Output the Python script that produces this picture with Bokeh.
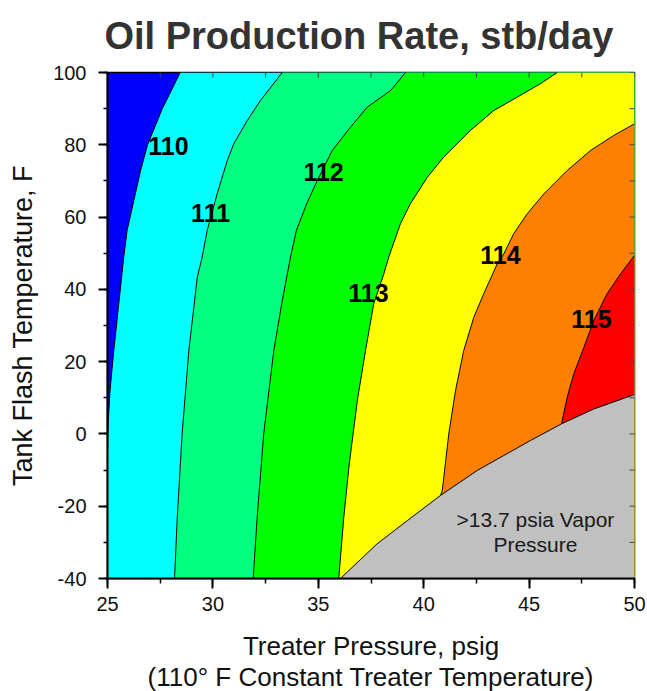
import math

from bokeh.plotting import figure
from bokeh.models import Range1d, SingleIntervalTicker, ColumnDataSource, PrintfTickFormatter
from bokeh.core.properties import value
from bokeh.embed import file_html
from bokeh.resources import INLINE

# Iso-rate boundaries, listed top to bottom: treater pressure (psig) and tank flash temperature (F)
b110_p = [28.45, 27.60, 26.90, 26.57, 26.25, 25.93, 25.77, 25.30, 25.12, 25.03, 25.00]
b110_t = [100.0, 90.0, 80.0, 72.9, 64.6, 56.3, 48.9, 23.1, 12.0, 3.0, -5.0]

b111_p = [33.29, 32.26, 31.63, 30.99, 30.68, 30.20, 29.73, 29.49, 29.26, 28.86, 28.54, 28.31, 28.18]
b111_t = [100.0, 92.3, 86.7, 80.3, 75.6, 66.4, 56.3, 48.9, 43.4, 23.1, 0.0, -23.1, -40.0]

b112_p = [39.14, 38.43, 37.32, 36.53, 35.66, 34.95, 34.45, 33.96, 33.68, 33.29, 32.89, 32.41, 32.10, 31.91]
b112_t = [100.0, 95.0, 90.4, 84.9, 78.4, 70.1, 63.7, 56.3, 48.9, 36.9, 23.1, 0.0, -23.1, -40.0]

b113_p = [46.33, 45.54, 44.44, 43.33, 42.22, 40.95, 40.17, 39.37, 38.90, 38.34, 38.11, 37.63, 37.24, 36.85, 36.45, 36.21, 35.97]
b113_t = [100.0, 96.9, 93.2, 89.5, 84.0, 76.6, 71.0, 63.7, 58.2, 48.9, 44.3, 36.0, 23.1, 9.2, -9.2, -23.0, -40.0]

b114_p = [50.00, 49.02, 47.91, 46.81, 45.70, 44.91, 44.27, 43.80, 43.49, 42.85, 42.38, 41.90, 41.51, 41.19, 40.88, 40.80]
b114_t = [85.8, 82.6, 78.4, 72.9, 66.4, 60.9, 55.4, 49.8, 47.1, 38.8, 32.3, 23.1, 12.0, 0.0, -15.7, -17.0]

b115_p = [50.00, 49.34, 48.70, 48.07, 47.60, 47.12, 46.81, 46.54]
b115_t = [49.4, 44.3, 38.8, 31.4, 24.0, 16.6, 10.2, 2.8]

# Limit where stock-tank vapor pressure exceeds 13.7 psia
vp_p = [36.05, 37.79, 39.22, 40.80, 42.54, 45.07, 46.54, 48.07, 50.00]
vp_t = [-40.0, -30.4, -24.0, -17.0, -10.1, -1.8, 2.8, 6.9, 10.9]

levels = ["110", "111", "112", "113", "114", "115"]
band_colors = ["#00FFFF", "#00FF80", "#00FF00", "#FFFF00", "#FF8000", "#FF0000"]
below_color = "#0000FF"
vp_color = "#C0C0C0"

# Contour label anchors
label_p = [27.89, 29.89, 35.25, 37.38, 43.64, 47.96]
label_t = [79.8, 61.0, 72.6, 39.1, 49.4, 31.7]

# Tick positions (major and minor) along both axes
x_ticks = [25, 27.5, 30, 32.5, 35, 37.5, 40, 42.5, 45, 47.5, 50]
y_ticks = [-40, -30, -20, -10, 0, 10, 20, 30, 40, 50, 60, 70, 80, 90, 100]

x_min, x_max = 25, 50
y_min, y_max = -40, 100

boundaries = [(b110_p, b110_t), (b111_p, b111_t), (b112_p, b112_t),
              (b113_p, b113_t), (b114_p, b114_t), (b115_p, b115_t)]

# Each band covers everything to the right of its lower boundary; later bands paint over earlier ones
band_xs, band_ys = [], []
for bp, bt in boundaries:
    band_xs.append(bp + [bp[-1], x_max, x_max])
    band_ys.append(bt + [y_min, y_min, bt[0] if bp[0] == x_max else y_max])

FONT = "Liberation Sans"

p = figure(frame_width=527, frame_height=506,
           min_border_left=107, min_border_right=13, min_border_top=72, min_border_bottom=113,
           x_range=Range1d(x_min, x_max), y_range=Range1d(y_min, y_max),
           output_backend="svg", toolbar_location=None,
           background_fill_color=below_color, border_fill_color="white")
x_axis = p.xaxis[0]
y_axis = p.yaxis[0]

p.patches(xs=band_xs, ys=band_ys, fill_color=band_colors, line_color=None)
p.patch(x=vp_p + [x_max], y=vp_t + [y_min], fill_color=vp_color, line_color=None)

p.multi_line(xs=[b[0] for b in boundaries] + [vp_p], ys=[b[1] for b in boundaries] + [vp_t],
             line_color="black", line_width=1)

lbl_src = ColumnDataSource(dict(x=label_p, y=label_t, text=levels))
p.text(x="x", y="y", text="text", source=lbl_src, text_align="center", text_baseline="middle",
       text_font=value(FONT), text_font_style="bold", text_font_size="25px", text_color="black")

p.text(x=[45.3, 45.3], y=[-23.7, -30.6], text=[">13.7 psia Vapor", "Pressure"],
       text_align="center", text_baseline="middle", text_font=value(FONT),
       text_font_size="21px", text_color="#1a1a1a")

# Short inward ticks mirrored on the top and right edges (half of each dash is clipped by the frame)
p.scatter(x=x_ticks, y=[y_max] * len(x_ticks), marker="dash", size=10, angle=math.pi / 2,
          line_color="#444444", line_width=1)
p.scatter(x=[x_max] * len(y_ticks), y=y_ticks, marker="dash", size=10,
          line_color="#444444", line_width=1)

# Title
p.title.text = "Oil Production Rate, stb/day"
p.title.align = "left"
p.title.vertical_align = "top"
p.title.offset = -3
p.title.standoff = 27
p.title.text_font = FONT
p.title.text_font_size = "38px"
p.title.text_font_style = "bold"
p.title.text_color = "#333333"

p.xgrid.grid_line_color = None
p.ygrid.grid_line_color = None
p.outline_line_color = "black"
p.outline_line_width = 1.5

xt = SingleIntervalTicker(interval=5, num_minor_ticks=2)
yt = SingleIntervalTicker(interval=20, num_minor_ticks=2)

for ax, tk in ((x_axis, xt), (y_axis, yt)):
    ax.ticker = tk
    ax.formatter = PrintfTickFormatter(format="%d")
    ax.axis_line_width = 2
    ax.axis_line_color = "black"
    ax.major_tick_line_width = 2
    ax.minor_tick_line_width = 1.5
    ax.major_tick_in = 0
    ax.minor_tick_in = 0
    ax.major_label_text_font = FONT
    ax.major_label_text_font_size = "20px"
    ax.major_label_text_color = "#111111"
    ax.axis_label_text_font = FONT
    ax.axis_label_text_font_style = "normal"
    ax.axis_label_text_color = "#111111"

y_axis.axis_label_text_font_size = "27px"
x_axis.axis_label_text_font_size = "26px"

x_axis.major_tick_out = 10
x_axis.minor_tick_out = 5
x_axis.major_label_standoff = 8
x_axis.axis_label = "Treater Pressure, psig\n(110\u00b0 F Constant Treater Temperature)"
x_axis.axis_label_standoff = 17
x_axis.axis_label_text_line_height = 1.05

y_axis.major_tick_out = 9
y_axis.minor_tick_out = 4
y_axis.major_label_standoff = 12
y_axis.axis_label = "Tank Flash Temperature, F"
y_axis.axis_label_standoff = 12

open("out.html", "w").write(file_html(p, INLINE))
